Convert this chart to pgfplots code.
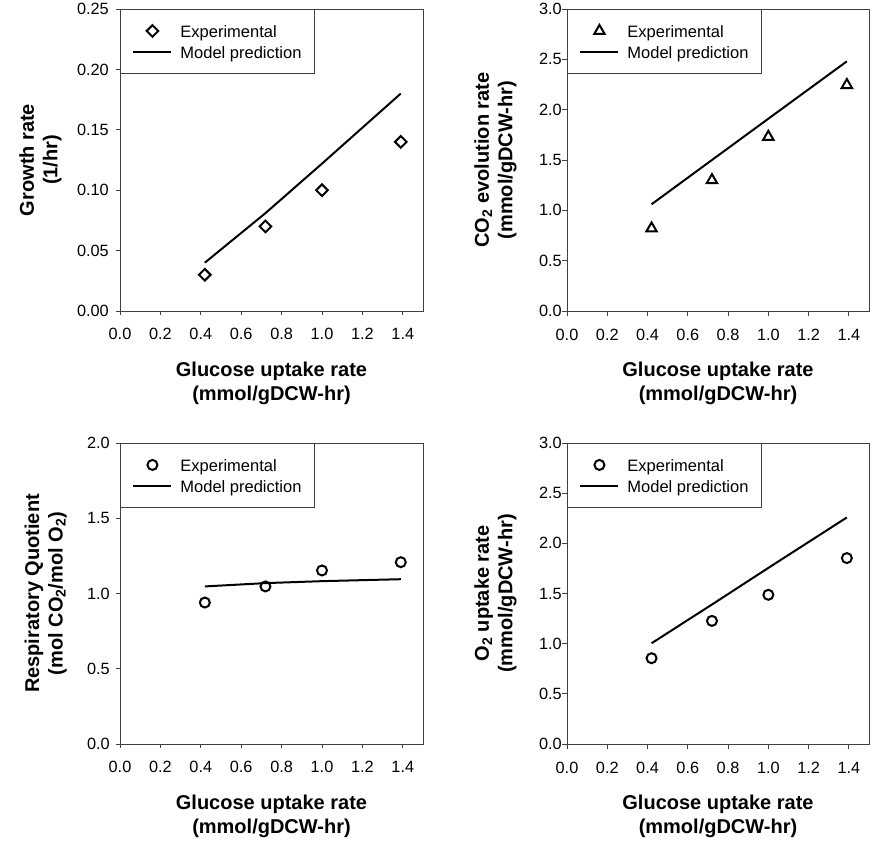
\documentclass[border=0pt]{standalone}
\usepackage{fontspec}
\setmainfont{Liberation Sans}
\usepackage{pgfplots}
\pgfplotsset{compat=1.18}

\pgfplotsset{
  panel/.style={
    scale only axis,
    anchor=south west,
    xmin=0, xmax=1.5,
    xtick={0,0.2,0.4,0.6,0.8,1.0,1.2,1.4},
    tick pos=left,
    tick align=outside,
    major tick length=4pt,
    axis line style={black!75, line width=0.9pt},
    every tick/.style={black!75, line width=0.9pt},
    /pgf/number format/assume math mode=true,
    xticklabel style={/pgf/number format/fixed, /pgf/number format/fixed zerofill, /pgf/number format/precision=1},
    tick label style={font=\fontsize{16.3}{19}\selectfont, inner sep=0pt},
    xticklabel style={anchor=north, yshift=-13pt},
    label style={font=\fontsize{20}{23.5}\selectfont\bfseries, inner sep=0pt, align=center},
    xlabel style={at={(axis description cs:0.5,-0.169)}, anchor=north},
    xlabel={Glucose uptake rate\\(mmol/gDCW-hr)},
    legend cell align=left,
    legend style={at={(0,1)}, anchor=north west, draw=black!75, line width=0.9pt,
      inner xsep=12pt, inner ysep=11pt, column sep=7pt, row sep=0pt,
      font=\fontsize{16.5}{19}\selectfont,
      nodes={inner sep=1pt, text height=16pt, text depth=3pt}},
  },
  modelline/.style={black, line width=2pt, no marks,
    legend image code/.code={\draw[##1] (0pt,0pt) -- (38pt,0pt);}},
  expmarks/.style={only marks, black, mark options={line width=2pt, fill=white},
    legend image code/.code={\draw[##1] plot coordinates {(19pt,0pt)};}},
  yfmt/.style={yticklabel style={/pgf/number format/fixed, /pgf/number format/fixed zerofill, /pgf/number format/precision=#1}},
}

\begin{document}
\begin{tikzpicture}
\path[use as bounding box] (0pt,0pt) rectangle (887pt,844pt);

% Panel 1: growth rate
\begin{axis}[panel, at={(120pt,533pt)}, width=303pt, height=302pt,
  ymin=0, ymax=0.25, ytick={0,0.05,0.10,0.15,0.20,0.25},
  yfmt=2,
  yticklabel style={anchor=east, xshift=-7pt},
  ylabel style={at={(axis description cs:-0.192,0.5)}, anchor=south},
  ylabel={Growth rate\\(1/hr)}]
\addplot[expmarks, mark=square, mark size=4.1pt, mark options={rotate=45, line width=2pt, fill=white}] coordinates {
  (0.42,0.030) (0.72,0.070) (1.00,0.100) (1.39,0.140)};
\addlegendentry{Experimental}
\addplot[modelline] coordinates {
  (0.42,0.040) (0.72,0.081) (1.00,0.122) (1.39,0.180)};
\addlegendentry{Model prediction}
\end{axis}

% Panel 2: CO2 evolution rate
\begin{axis}[panel, at={(567pt,533pt)}, width=302pt, height=302pt,
  ymin=0, ymax=3, ytick={0,0.5,1.0,1.5,2.0,2.5,3.0},
  yfmt=1,
  major tick length=5pt,
  yticklabel style={anchor=east, xshift=0pt},
  ylabel style={at={(axis description cs:-0.166,0.5)}, anchor=south},
  ylabel={CO\textsubscript{2} evolution rate\\(mmol/gDCW-hr)}]
\addplot[expmarks, mark=triangle, mark size=6pt] coordinates {
  (0.42,0.82) (0.72,1.30) (1.00,1.73) (1.39,2.245)};
\addlegendentry{Experimental}
\addplot[modelline] coordinates {
  (0.42,1.06) (0.72,1.50) (1.00,1.91) (1.39,2.48)};
\addlegendentry{Model prediction}
\end{axis}

% Panel 3: respiratory quotient
\begin{axis}[panel, at={(120pt,100pt)}, width=303pt, height=301pt,
  ymin=0, ymax=2, ytick={0,0.5,1.0,1.5,2.0},
  yfmt=1,
  yticklabel style={anchor=east, xshift=-6pt},
  ylabel style={at={(axis description cs:-0.175,0.5)}, anchor=south},
  ylabel={Respiratory Quotient\\(mol CO\textsubscript{2}/mol O\textsubscript{2})}]
\addplot[expmarks, mark=o, mark size=5pt] coordinates {
  (0.42,0.940) (0.72,1.047) (1.00,1.153) (1.39,1.208)};
\addlegendentry{Experimental}
\addplot[modelline] coordinates {
  (0.42,1.047) (0.72,1.069) (1.00,1.082) (1.39,1.095)};
\addlegendentry{Model prediction}
\end{axis}

% Panel 4: O2 uptake rate
\begin{axis}[panel, at={(567pt,100pt)}, width=302pt, height=301pt,
  ymin=0, ymax=3, ytick={0,0.5,1.0,1.5,2.0,2.5,3.0},
  yfmt=1,
  major tick length=5pt,
  yticklabel style={anchor=east, xshift=0pt},
  ylabel style={at={(axis description cs:-0.166,0.5)}, anchor=south},
  ylabel={O\textsubscript{2} uptake rate\\(mmol/gDCW-hr)}]
\addplot[expmarks, mark=o, mark size=5pt] coordinates {
  (0.42,0.855) (0.72,1.227) (1.00,1.487) (1.39,1.853)};
\addlegendentry{Experimental}
\addplot[modelline] coordinates {
  (0.42,1.004) (0.72,1.39) (1.00,1.755) (1.39,2.258)};
\addlegendentry{Model prediction}
\end{axis}
\end{tikzpicture}
\end{document}
